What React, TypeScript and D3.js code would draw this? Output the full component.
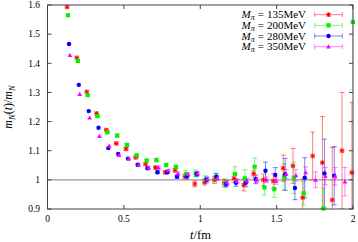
import * as d3 from "d3";
import { useEffect, useRef } from "react";

// lattice times (fm) and effective mass ratio, per pion mass
const tRed = [0.128, 0.192, 0.257, 0.321, 0.385, 0.450, 0.514, 0.578, 0.642, 0.707, 0.771, 0.835, 0.900, 0.964, 1.028, 1.093, 1.157, 1.221, 1.285, 1.350, 1.414, 1.478, 1.543, 1.607, 1.671, 1.736, 1.800, 1.864, 1.928, 1.993];
const vRed = [1.593, 1.419, 1.302, 1.228, 1.171, 1.125, 1.106, 1.077, 1.054, 1.042, 1.026, 1.033, 1.011, 0.986, 0.992, 1.0, 0.99, 1.005, 0.982, 1.021, 1.0, 0.996, 1.04, 1.048, 0.939, 1.082, 1.059, 0.931, 1.1, 1.025];
const eRed = [0.003, 0.003, 0.003, 0.003, 0.004, 0.004, 0.004, 0.005, 0.005, 0.006, 0.006, 0.007, 0.008, 0.01, 0.01, 0.012, 0.012, 0.015, 0.02, 0.012, 0.02, 0.025, 0.045, 0.06, 0.064, 0.082, 0.158, 0.18, 0.2, 0.24];

const tGreen = [0.134, 0.199, 0.263, 0.327, 0.392, 0.456, 0.520, 0.584, 0.649, 0.713, 0.777, 0.841, 0.906, 0.970, 1.034, 1.099, 1.163, 1.227, 1.292, 1.356, 1.420, 1.485, 1.549, 1.613, 1.677, 1.806, 1.999];
const vGreen = [1.565, 1.408, 1.291, 1.219, 1.163, 1.152, 1.12, 1.084, 1.066, 1.068, 1.051, 1.044, 1.02, 1.022, 1.0, 1.008, 0.988, 1.02, 1.005, 1.045, 0.974, 0.968, 1.011, 1.007, 0.954, 0.902, 1.542];
const eGreen = [0.003, 0.003, 0.003, 0.004, 0.004, 0.004, 0.005, 0.005, 0.005, 0.006, 0.006, 0.007, 0.012, 0.012, 0.014, 0.015, 0.015, 0.025, 0.03, 0.03, 0.026, 0.028, 0.045, 0.054, 0.04, 0.07, 0.233];

const tBlue = [0.141, 0.205, 0.270, 0.334, 0.398, 0.463, 0.527, 0.591, 0.655, 0.720, 0.784, 0.848, 0.913, 0.977, 1.041, 1.106, 1.170, 1.234, 1.298, 1.363, 1.427, 1.491, 1.556, 1.620, 1.684, 1.813, 1.877];
const vBlue = [1.466, 1.326, 1.236, 1.179, 1.109, 1.089, 1.073, 1.052, 1.040, 1.026, 1.026, 1.011, 1.012, 1.02, 1.0, 1.011, 0.986, 0.99, 0.99, 1.002, 1.031, 1.017, 1.019, 0.972, 1.007, 1.022, 1.014];
const eBlue = [0.002, 0.002, 0.002, 0.003, 0.003, 0.003, 0.003, 0.004, 0.004, 0.005, 0.005, 0.006, 0.008, 0.008, 0.01, 0.01, 0.01, 0.012, 0.012, 0.015, 0.03, 0.025, 0.055, 0.04, 0.069, 0.118, 0.1];

const tMag = [0.147, 0.211, 0.276, 0.340, 0.404, 0.469, 0.533, 0.597, 0.661, 0.726, 0.790, 0.854, 0.919, 0.983, 1.047, 1.112, 1.176, 1.240, 1.304, 1.369, 1.433, 1.497, 1.562, 1.626, 1.690, 1.755, 1.819, 1.883, 1.947];
const vMag = [1.428, 1.294, 1.213, 1.150, 1.117, 1.085, 1.073, 1.053, 1.042, 1.042, 1.032, 1.022, 1.019, 1.022, 1.002, 1.006, 0.99, 0.995, 0.997, 1.0, 1.0, 0.997, 1.02, 1.015, 1.025, 1.0, 1.013, 1.012, 0.994];
const eMag = [0.002, 0.002, 0.002, 0.002, 0.003, 0.003, 0.003, 0.003, 0.004, 0.004, 0.004, 0.005, 0.006, 0.006, 0.006, 0.007, 0.008, 0.008, 0.008, 0.009, 0.01, 0.012, 0.015, 0.02, 0.02, 0.027, 0.03, 0.03, 0.049];

const masses = ["135", "200", "280", "350"];
const xTicks = [0, 0.5, 1, 1.5, 2];
const yTicks = [0.9, 1, 1.1, 1.2, 1.3, 1.4, 1.5, 1.6];

const series = [
    { t: tRed, v: vRed, e: eRed, color: "#ff0000", shape: "star" },
    { t: tGreen, v: vGreen, e: eGreen, color: "#00f000", shape: "square" },
    { t: tBlue, v: vBlue, e: eBlue, color: "#0000ff", shape: "circle" },
    { t: tMag, v: vMag, e: eMag, color: "#ff00ff", shape: "triangle" }
];

function drawMarker(g, shape, color, cx, cy) {
    if (shape === "star") {
        g.append("rect").attr("x", cx - 2.3).attr("y", cy - 2.3).attr("width", 4.6).attr("height", 4.6)
            .attr("fill", "#ff9a9a").attr("opacity", 0.6);
        const p = d3.path();
        p.moveTo(cx - 2.3, cy); p.lineTo(cx + 2.3, cy);
        p.moveTo(cx, cy - 2.3); p.lineTo(cx, cy + 2.3);
        p.moveTo(cx - 1.8, cy - 1.8); p.lineTo(cx + 1.8, cy + 1.8);
        p.moveTo(cx - 1.8, cy + 1.8); p.lineTo(cx + 1.8, cy - 1.8);
        g.append("path").attr("d", p.toString()).attr("stroke", color).attr("stroke-width", 1).attr("fill", "none");
    } else if (shape === "square") {
        g.append("rect").attr("x", cx - 2.1).attr("y", cy - 2.1).attr("width", 4.2).attr("height", 4.2).attr("fill", color);
    } else if (shape === "circle") {
        g.append("circle").attr("cx", cx).attr("cy", cy).attr("r", 2.2).attr("fill", color);
    } else {
        g.append("path").attr("d", `M${cx},${cy - 2.4}L${cx + 2.4},${cy + 1.8}L${cx - 2.4},${cy + 1.8}Z`).attr("fill", color);
    }
}

function App() {
    const ref = useRef(null);

    useEffect(() => {
        d3.select(ref.current).selectAll("*").remove();

        const width = 358;
        const height = 242;
        const left = 47.5, right = 353, top = 5, bottom = 209;
        const serif = "'Liberation Serif', 'Times New Roman', serif";

        const x = d3.scaleLinear().domain([0, 2]).range([left, right]);
        const y = d3.scaleLinear().domain([0.9, 1.6]).range([bottom, top]);

        const svg = d3.select(ref.current)
            .append("svg")
            .attr("width", width)
            .attr("height", height)
            .style("display", "block")
            .style("background", "#fff");

        svg.append("defs").append("clipPath").attr("id", "plot")
            .append("rect").attr("x", left).attr("y", top).attr("width", right - left).attr("height", bottom - top);

        // line at 1
        svg.append("line")
            .attr("x1", left).attr("x2", right).attr("y1", y(1)).attr("y2", y(1))
            .attr("stroke", "#999").attr("stroke-width", 1.2);

        // error bars
        const bars = svg.append("g").attr("clip-path", "url(#plot)");
        series.forEach(s => {
            s.t.forEach((t, i) => {
                const px = x(t);
                const y0 = y(s.v[i] - s.e[i]);
                const y1 = y(s.v[i] + s.e[i]);
                if (y0 - y1 < 2) return;
                const g = bars.append("g").attr("stroke", s.color).attr("stroke-opacity", 0.5).attr("stroke-width", 1);
                g.append("line").attr("x1", px).attr("x2", px).attr("y1", y0).attr("y2", y1);
                g.append("line").attr("x1", px - 2.5).attr("x2", px + 2.5).attr("y1", y0).attr("y2", y0);
                g.append("line").attr("x1", px - 2.5).attr("x2", px + 2.5).attr("y1", y1).attr("y2", y1);
            });
        });

        // markers
        const marks = svg.append("g");
        series.forEach(s => {
            s.t.forEach((t, i) => {
                if (s.v[i] < 0.9 || s.v[i] > 1.6) return;
                drawMarker(marks, s.shape, s.color, x(t), y(s.v[i]));
            });
        });

        // frame and ticks
        const axisColor = "#444";
        svg.append("rect").attr("x", left).attr("y", top).attr("width", right - left).attr("height", bottom - top)
            .attr("fill", "none").attr("stroke", axisColor).attr("stroke-width", 1);

        const tickLen = 4;
        xTicks.forEach(v => {
            svg.append("line").attr("x1", x(v)).attr("x2", x(v)).attr("y1", bottom).attr("y2", bottom - tickLen).attr("stroke", axisColor);
            svg.append("line").attr("x1", x(v)).attr("x2", x(v)).attr("y1", top).attr("y2", top + tickLen).attr("stroke", axisColor);
            svg.append("text").attr("x", x(v)).attr("y", 221.5).attr("text-anchor", "middle")
                .attr("font-family", serif).attr("font-size", 9.5).text(String(v));
        });
        yTicks.forEach(v => {
            svg.append("line").attr("x1", left).attr("x2", left + tickLen).attr("y1", y(v)).attr("y2", y(v)).attr("stroke", axisColor);
            svg.append("line").attr("x1", right).attr("x2", right - tickLen).attr("y1", y(v)).attr("y2", y(v)).attr("stroke", axisColor);
            svg.append("text").attr("x", 40).attr("y", y(v) + 3.3).attr("text-anchor", "end")
                .attr("font-family", serif).attr("font-size", 9.5).text(String(+v.toFixed(1)));
        });

        // axis labels
        const xl = svg.append("text").attr("x", 200.5).attr("y", 238.5).attr("text-anchor", "middle")
            .attr("font-family", serif).attr("font-size", 12.5);
        xl.append("tspan").attr("font-style", "italic").text("t");
        xl.append("tspan").text("/fm");

        const yl = svg.append("text").attr("transform", "translate(12,107) rotate(-90)").attr("text-anchor", "middle")
            .attr("font-family", serif).attr("font-size", 12);
        yl.append("tspan").attr("font-style", "italic").text("m");
        yl.append("tspan").attr("font-style", "italic").attr("font-size", 8.5).attr("dy", 2.5).text("N");
        yl.append("tspan").attr("dy", -2.5).text("(");
        yl.append("tspan").attr("font-style", "italic").text("t");
        yl.append("tspan").text(")/");
        yl.append("tspan").attr("font-style", "italic").text("m");
        yl.append("tspan").attr("font-style", "italic").attr("font-size", 8.5).attr("dy", 2.5).text("N");

        // legend
        series.forEach((s, i) => {
            const ly = 14.7 + i * 10.67;
            const txt = svg.append("text").attr("x", 306).attr("y", ly + 3.6).attr("text-anchor", "end")
                .attr("font-family", serif).attr("font-size", 11);
            txt.append("tspan").attr("font-style", "italic").text("M");
            txt.append("tspan").attr("font-style", "italic").attr("font-size", 8).attr("dy", 2).text("π");
            txt.append("tspan").attr("dy", -2).attr("dx", 3).text("=");
            txt.append("tspan").attr("dx", 3).text(`${masses[i]}MeV`);

            const g = svg.append("g").attr("stroke", s.color).attr("stroke-opacity", 0.5);
            g.append("line").attr("x1", 314.7).attr("x2", 342.3).attr("y1", ly).attr("y2", ly);
            g.append("line").attr("x1", 314.7).attr("x2", 314.7).attr("y1", ly - 2.5).attr("y2", ly + 2.5);
            g.append("line").attr("x1", 342.3).attr("x2", 342.3).attr("y1", ly - 2.5).attr("y2", ly + 2.5);
            drawMarker(svg, s.shape, s.color, 328.5, ly);
        });
    }, []);

    return (
        <div ref={ref} style={{ position: "absolute", left: 0, top: 0 }}></div>
    );
}

export default App;
